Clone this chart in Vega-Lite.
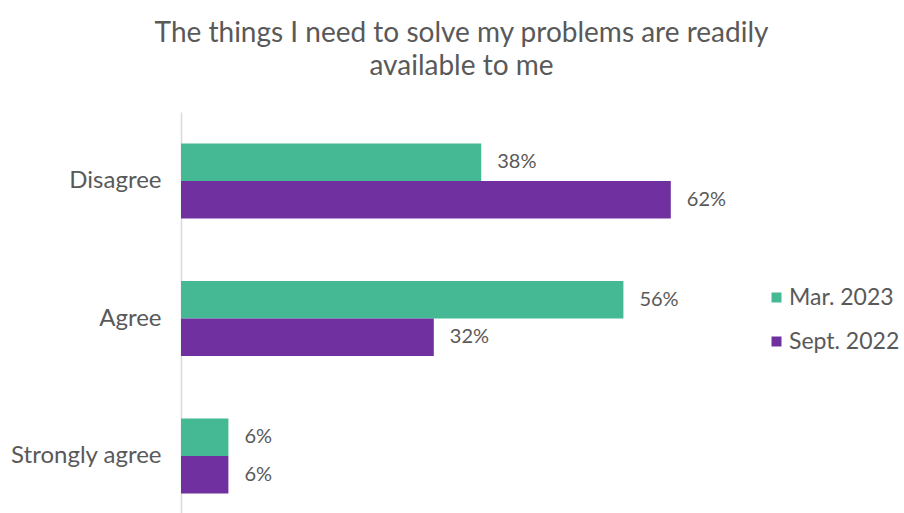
{
  "$schema": "https://vega.github.io/schema/vega-lite/v6.json",
  "autosize": "none",
  "width": 553,
  "height": 401,
  "padding": {"left": 181, "top": 112, "right": 170, "bottom": 0},
  "background": "white",
  "config": {
    "font": "Lato",
    "view": {"stroke": null}
  },
  "title": {
    "text": ["The things I need to solve my problems are readily", "available to me"],
    "fontSize": 28,
    "fontWeight": "normal",
    "color": "#595959",
    "anchor": "middle",
    "offset": 31,
    "dx": 4,
    "lineHeight": 33
  },
  "data": {
    "values": [
      {"response": "Disagree", "period": "Mar. 2023", "share": 0.38},
      {"response": "Disagree", "period": "Sept. 2022", "share": 0.62},
      {"response": "Agree", "period": "Mar. 2023", "share": 0.56},
      {"response": "Agree", "period": "Sept. 2022", "share": 0.32},
      {"response": "Strongly agree", "period": "Mar. 2023", "share": 0.06},
      {"response": "Strongly agree", "period": "Sept. 2022", "share": 0.06}
    ]
  },
  "encoding": {
    "y": {
      "field": "response",
      "type": "nominal",
      "sort": ["Disagree", "Agree", "Strongly agree"],
      "scale": {"paddingInner": 0.4545, "paddingOuter": 0.1855, "align": 0.618},
      "axis": {
        "title": null,
        "ticks": false,
        "labelFontSize": 24,
        "labelColor": "#595959",
        "labelPadding": 20,
        "domainColor": "#d9d9d9",
        "domainWidth": 1.5,
        "grid": false
      }
    },
    "yOffset": {
      "field": "period",
      "type": "nominal",
      "sort": ["Mar. 2023", "Sept. 2022"],
      "scale": {"paddingInner": 0, "paddingOuter": 0}
    },
    "x": {
      "field": "share",
      "type": "quantitative",
      "scale": {"domain": [0, 0.7], "nice": false},
      "axis": null
    }
  },
  "layer": [
    {
      "mark": {"type": "bar"},
      "encoding": {
        "color": {
          "field": "period",
          "type": "nominal",
          "sort": ["Mar. 2023", "Sept. 2022"],
          "scale": {"domain": ["Mar. 2023", "Sept. 2022"], "range": ["#45b994", "#7030a0"]},
          "legend": {
            "title": null,
            "orient": "none",
            "legendX": 584,
            "legendY": 174,
            "symbolType": "square",
            "symbolSize": 100,
            "symbolStrokeWidth": 0,
            "labelFontSize": 23,
            "labelColor": "#595959",
            "labelOffset": 1,
            "rowPadding": 20
          }
        }
      }
    },
    {
      "mark": {"type": "text", "align": "left", "dx": 16, "fontSize": 20, "color": "#595959"},
      "encoding": {
        "text": {"field": "share", "type": "quantitative", "format": ".0%"}
      }
    }
  ]
}
